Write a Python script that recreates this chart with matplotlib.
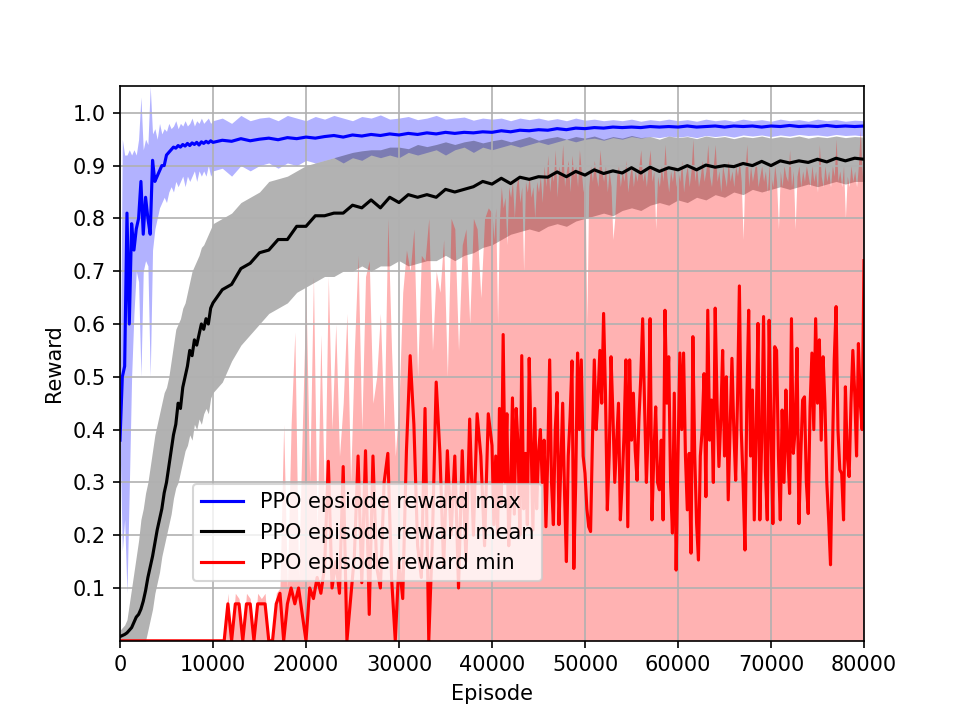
import numpy as np
import matplotlib
matplotlib.use("Agg")
import matplotlib.pyplot as plt

# Episode grids: max/mean are dense at the start, min is dense in the second half
episodes_a = np.array(list(range(0, 10000, 250)) + list(range(10000, 80001, 1000)))
episodes_b = np.array(list(range(0, 40000, 400)) + list(range(40000, 80001, 200)))

# Max reward: line and spread
max_line = [0.38, 0.50, 0.52, 0.81, 0.60, 0.79, 0.74, 0.78, 0.80, 0.87,
            0.77, 0.84, 0.80, 0.77, 0.91, 0.87, 0.88, 0.89, 0.90, 0.90,
            0.92, 0.925, 0.93, 0.935, 0.933, 0.938, 0.935, 0.94, 0.937, 0.942,
            0.938, 0.943, 0.94, 0.944, 0.939, 0.945, 0.942, 0.946, 0.943, 0.947,
            0.944, 0.948, 0.946, 0.951, 0.947, 0.950, 0.952, 0.949, 0.953, 0.951,
            0.954, 0.952, 0.955, 0.957, 0.954, 0.958, 0.956, 0.959, 0.957, 0.960,
            0.958, 0.961, 0.959, 0.962, 0.960, 0.963, 0.961, 0.963, 0.962, 0.964,
            0.963, 0.966, 0.964, 0.967, 0.966, 0.968, 0.967, 0.970, 0.968, 0.971,
            0.970, 0.972, 0.971, 0.973, 0.972, 0.973, 0.972, 0.974, 0.973, 0.974,
            0.973, 0.975, 0.973, 0.974, 0.975, 0.973, 0.975, 0.974, 0.975, 0.973,
            0.975, 0.974, 0.976, 0.974, 0.975, 0.974, 0.976, 0.974, 0.975, 0.974,
            0.975]
max_hi = [0.40, 0.95, 0.92, 0.92, 0.93, 0.92, 0.93, 0.92, 0.95, 1.03,
          0.93, 0.95, 0.94, 1.05, 0.96, 0.97, 0.95, 0.98, 0.96, 0.97,
          0.965, 0.98, 0.97, 0.975, 0.985, 0.97, 0.98, 0.975, 0.985, 0.975,
          0.98, 0.99, 0.975, 0.985, 0.98, 0.99, 0.98, 0.985, 0.99, 0.98,
          0.985, 0.99, 0.98, 0.995, 0.985, 0.99, 0.992, 0.985, 0.995, 0.99,
          0.985, 0.993, 0.988, 0.995, 0.99, 0.985, 0.993, 0.99, 0.996, 0.988,
          0.99, 0.993, 0.987, 0.99, 0.995, 0.988, 0.99, 0.992, 0.986, 0.99,
          0.988, 0.99, 0.985, 0.99, 0.987, 0.99, 0.986, 0.989, 0.985, 0.99,
          0.986, 0.988, 0.985, 0.987, 0.985, 0.988, 0.984, 0.987, 0.985, 0.988,
          0.985, 0.987, 0.984, 0.988, 0.985, 0.987, 0.984, 0.988, 0.985, 0.987,
          0.984, 0.988, 0.985, 0.987, 0.984, 0.988, 0.985, 0.987, 0.984, 0.986,
          0.985]
max_lo = [0.38, 0.17, 0.23, 0.09, 0.29, 0.50, 0.62, 0.70, 0.68, 0.50,
          0.70, 0.72, 0.71, 0.50, 0.74, 0.78, 0.80, 0.82, 0.83, 0.84,
          0.83, 0.85, 0.86, 0.85, 0.87, 0.86, 0.87, 0.88, 0.86, 0.88,
          0.87, 0.88, 0.89, 0.87, 0.89, 0.88, 0.89, 0.88, 0.90, 0.88,
          0.89, 0.895, 0.88, 0.90, 0.89, 0.90, 0.905, 0.895, 0.905, 0.90,
          0.91, 0.905, 0.91, 0.915, 0.905, 0.915, 0.91, 0.92, 0.915, 0.92,
          0.915, 0.925, 0.92, 0.925, 0.93, 0.92, 0.93, 0.935, 0.925, 0.935,
          0.93, 0.935, 0.94, 0.935, 0.94, 0.945, 0.94, 0.945, 0.95, 0.945,
          0.95, 0.952, 0.948, 0.953, 0.95, 0.955, 0.952, 0.955, 0.953, 0.956,
          0.954, 0.956, 0.953, 0.957, 0.955, 0.957, 0.954, 0.958, 0.956, 0.958,
          0.955, 0.958, 0.956, 0.959, 0.957, 0.958, 0.956, 0.959, 0.957, 0.958,
          0.956]

# Mean reward: line and spread
mean_line = [0.008, 0.01, 0.012, 0.015, 0.02, 0.025, 0.035, 0.045, 0.05, 0.06,
             0.075, 0.095, 0.12, 0.14, 0.16, 0.185, 0.21, 0.23, 0.25, 0.28,
             0.30, 0.33, 0.36, 0.39, 0.41, 0.45, 0.44, 0.48, 0.50, 0.52,
             0.55, 0.54, 0.57, 0.56, 0.58, 0.60, 0.59, 0.61, 0.60, 0.63,
             0.64, 0.665, 0.675, 0.705, 0.715, 0.735, 0.74, 0.76, 0.76, 0.785,
             0.785, 0.805, 0.805, 0.81, 0.81, 0.825, 0.82, 0.835, 0.82, 0.84,
             0.83, 0.845, 0.84, 0.845, 0.84, 0.855, 0.85, 0.855, 0.86, 0.87,
             0.865, 0.876, 0.866, 0.878, 0.874, 0.879, 0.878, 0.888, 0.879, 0.889,
             0.882, 0.892, 0.885, 0.89, 0.886, 0.896, 0.886, 0.897, 0.889, 0.896,
             0.892, 0.90, 0.892, 0.901, 0.897, 0.90, 0.898, 0.904, 0.90, 0.908,
             0.90, 0.909, 0.905, 0.909, 0.906, 0.912, 0.907, 0.914, 0.909, 0.914,
             0.912]
mean_hi = [0.02, 0.025, 0.03, 0.04, 0.07, 0.10, 0.13, 0.16, 0.19, 0.23,
           0.25, 0.28, 0.30, 0.33, 0.36, 0.39, 0.41, 0.43, 0.45, 0.47,
           0.48, 0.50, 0.53, 0.56, 0.59, 0.60, 0.61, 0.63, 0.64, 0.66,
           0.68, 0.70, 0.71, 0.72, 0.73, 0.745, 0.75, 0.76, 0.77, 0.78,
           0.79, 0.80, 0.81, 0.83, 0.84, 0.85, 0.87, 0.875, 0.88, 0.89,
           0.90, 0.905, 0.91, 0.915, 0.92, 0.925, 0.928, 0.93, 0.93, 0.935,
           0.935, 0.932, 0.94, 0.936, 0.94, 0.945, 0.94, 0.945, 0.948, 0.943,
           0.947, 0.95, 0.945, 0.95, 0.955, 0.948, 0.952, 0.955, 0.95, 0.955,
           0.952, 0.956, 0.95, 0.955, 0.952, 0.957, 0.953, 0.955, 0.95, 0.956,
           0.953, 0.955, 0.951, 0.956, 0.953, 0.955, 0.951, 0.955, 0.953, 0.956,
           0.952, 0.955, 0.953, 0.956, 0.952, 0.955, 0.953, 0.956, 0.953, 0.955,
           0.954]
mean_lo = [0.0, 0.0, 0.0, 0.0, 0.0, 0.0, 0.0, 0.0, 0.0, 0.0,
           0.0, 0.0, 0.02, 0.04, 0.06, 0.09, 0.11, 0.13, 0.16, 0.18,
           0.20, 0.22, 0.24, 0.27, 0.29, 0.30, 0.32, 0.34, 0.36, 0.37,
           0.39, 0.38, 0.41, 0.40, 0.42, 0.41, 0.43, 0.44, 0.43, 0.46,
           0.47, 0.49, 0.53, 0.56, 0.58, 0.60, 0.62, 0.63, 0.64, 0.66,
           0.67, 0.68, 0.69, 0.69, 0.70, 0.70, 0.71, 0.70, 0.71, 0.71,
           0.72, 0.71, 0.715, 0.72, 0.72, 0.73, 0.72, 0.73, 0.735, 0.745,
           0.75, 0.76, 0.77, 0.775, 0.78, 0.775, 0.785, 0.79, 0.785, 0.795,
           0.80, 0.805, 0.81, 0.805, 0.815, 0.82, 0.815, 0.825, 0.83, 0.825,
           0.835, 0.83, 0.84, 0.835, 0.845, 0.84, 0.85, 0.845, 0.855, 0.85,
           0.855, 0.86, 0.855, 0.86, 0.865, 0.86, 0.865, 0.87, 0.865, 0.87,
           0.87]

# Min reward: line and upper spread (lower spread sits on 0)
min_line = [0, 0, 0, 0, 0, 0, 0, 0, 0, 0,
            0, 0, 0, 0, 0, 0, 0, 0, 0, 0,
            0, 0, 0, 0, 0, 0, 0, 0, 0, 0.07,
            0.0, 0.07, 0.07, 0.0, 0.07, 0.07, 0.0, 0.07, 0.07, 0.07,
            0.0, 0.0, 0.07, 0.09, 0.0, 0.07, 0.10, 0.07, 0.10, 0.05,
            0.0, 0.10, 0.08, 0.12, 0.09, 0.14, 0.34, 0.10, 0.15, 0.09,
            0.33, 0.0, 0.08, 0.16, 0.35, 0.11, 0.36, 0.05, 0.35, 0.14,
            0.10, 0.30, 0.355, 0.12, 0.0, 0.15, 0.08, 0.36, 0.54, 0.41,
            0.18, 0.12, 0.44, 0.0, 0.20, 0.49, 0.355, 0.14, 0.36, 0.20,
            0.35, 0.10, 0.36, 0.15, 0.42, 0.20, 0.43, 0.35, 0.18, 0.43,
            # 40000 onwards, every 200 episodes
            0.37, 0.22, 0.35, 0.20, 0.44, 0.26, 0.58, 0.30, 0.43, 0.18,
            0.28, 0.46, 0.24, 0.44, 0.37, 0.20, 0.54, 0.25, 0.355, 0.22,
            0.535, 0.38, 0.21, 0.44, 0.25, 0.355, 0.40, 0.30, 0.38, 0.216,
            0.35, 0.532, 0.30, 0.22, 0.40, 0.47, 0.22, 0.33, 0.45, 0.28,
            0.15, 0.35, 0.425, 0.53, 0.137, 0.30, 0.545, 0.40, 0.532, 0.35,
            0.317, 0.25, 0.216, 0.207, 0.38, 0.532, 0.40, 0.462, 0.55, 0.45,
            0.62, 0.469, 0.248, 0.35, 0.538, 0.43, 0.30, 0.374, 0.45, 0.229,
            0.30, 0.393, 0.532, 0.216, 0.532, 0.38, 0.469, 0.36, 0.304, 0.42,
            0.50, 0.61, 0.45, 0.30, 0.40, 0.61, 0.229, 0.35, 0.443, 0.30,
            0.286, 0.38, 0.229, 0.626, 0.45, 0.538, 0.30, 0.204, 0.469, 0.134,
            0.35, 0.545, 0.40, 0.545, 0.35, 0.248, 0.355, 0.166, 0.576, 0.35,
            0.222, 0.153, 0.35, 0.40, 0.506, 0.273, 0.626, 0.38, 0.456, 0.30,
            0.63, 0.45, 0.33, 0.42, 0.55, 0.35, 0.50, 0.267, 0.40, 0.535,
            0.40, 0.304, 0.456, 0.672, 0.40, 0.30, 0.172, 0.45, 0.626, 0.35,
            0.475, 0.229, 0.40, 0.601, 0.229, 0.38, 0.614, 0.32, 0.229, 0.607,
            0.40, 0.222, 0.557, 0.55, 0.35, 0.229, 0.437, 0.30, 0.475, 0.36,
            0.279, 0.61, 0.355, 0.40, 0.554, 0.222, 0.35, 0.456, 0.462, 0.30,
            0.241, 0.443, 0.545, 0.40, 0.61, 0.45, 0.57, 0.38, 0.538, 0.45,
            0.30, 0.229, 0.144, 0.35, 0.532, 0.633, 0.40, 0.324, 0.317, 0.229,
            0.481, 0.35, 0.311, 0.45, 0.55, 0.469, 0.35, 0.563, 0.45, 0.40,
            0.72]
min_hi = [0, 0, 0, 0, 0, 0, 0, 0, 0, 0,
          0, 0, 0, 0, 0, 0, 0, 0, 0, 0,
          0, 0, 0, 0, 0, 0, 0, 0, 0, 0.09,
          0.0, 0.09, 0.08, 0.0, 0.09, 0.08, 0.0, 0.09, 0.08, 0.09,
          0.0, 0.0, 0.09, 0.10, 0.41, 0.10, 0.41, 0.585, 0.12, 0.40,
          0.66, 0.30, 0.69, 0.20, 0.58, 0.25, 0.69, 0.40, 0.60, 0.35,
          0.45, 0.62, 0.30, 0.55, 0.73, 0.40, 0.69, 0.72, 0.45, 0.50,
          0.62, 0.40, 0.80, 0.55, 0.35, 0.45, 0.66, 0.74, 0.70, 0.78,
          0.50, 0.73, 0.72, 0.80, 0.55, 0.70, 0.66, 0.76, 0.50, 0.80,
          0.78, 0.55, 0.75, 0.78, 0.60, 0.80, 0.78, 0.65, 0.80, 0.82,
          # 40000 onwards, every 200 episodes
          0.81, 0.76, 0.82, 0.60, 0.80, 0.86, 0.82, 0.84, 0.75, 0.86,
          0.84, 0.87, 0.80, 0.86, 0.88, 0.83, 0.86, 0.70, 0.87, 0.85,
          0.88, 0.84, 0.86, 0.80, 0.87, 0.85, 0.88, 0.83, 0.90, 0.86,
          0.92, 0.85, 0.89, 0.87, 0.93, 0.84, 0.90, 0.88, 0.94, 0.86,
          0.89, 0.91, 0.85, 0.92, 0.88, 0.90, 0.86, 0.93, 0.89, 0.85,
          0.88, 0.60, 0.86, 0.90, 0.87, 0.91, 0.88, 0.86, 0.93, 0.89,
          0.87, 0.90, 0.85, 0.89, 0.86, 0.76, 0.80, 0.88, 0.90, 0.86,
          0.89, 0.87, 0.91, 0.85, 0.88, 0.90, 0.86, 0.89, 0.87, 0.90,
          0.93, 0.87, 0.89, 0.86, 0.90, 0.93, 0.87, 0.89, 0.78, 0.88,
          0.86, 0.90, 0.87, 0.94, 0.88, 0.85, 0.89, 0.87, 0.90, 0.86,
          0.89, 0.87, 0.91, 0.85, 0.88, 0.90, 0.86, 0.89, 0.95, 0.87,
          0.90, 0.86, 0.88, 0.91, 0.87, 0.89, 0.94, 0.88, 0.86, 0.90,
          0.94, 0.87, 0.89, 0.85, 0.90, 0.88, 0.86, 0.91, 0.87, 0.89,
          0.86, 0.90, 0.88, 0.91, 0.87, 0.76, 0.89, 0.94, 0.86, 0.90,
          0.87, 0.89, 0.91, 0.86, 0.88, 0.90, 0.87, 0.89, 0.85, 0.90,
          0.88, 0.86, 0.90, 0.87, 0.78, 0.89, 0.86, 0.90, 0.88, 0.87,
          0.93, 0.86, 0.89, 0.78, 0.88, 0.90, 0.86, 0.89, 0.87, 0.90,
          0.88, 0.86, 0.90, 0.87, 0.89, 0.85, 0.94, 0.88, 0.86, 0.90,
          0.87, 0.89, 0.86, 0.90, 0.88, 0.95, 0.87, 0.89, 0.86, 0.90,
          0.80, 0.88, 0.86, 0.90, 0.87, 0.89, 0.86, 0.90, 0.97, 0.88,
          0.97]

fig, ax = plt.subplots(figsize=(6.4, 4.8))

# Spread bands
ax.fill_between(episodes_a, max_lo, max_hi, color='blue', alpha=0.3, linewidth=0)
ax.fill_between(episodes_a, mean_lo, mean_hi, color='black', alpha=0.3, linewidth=0)
ax.fill_between(episodes_b, 0, min_hi, color='red', alpha=0.3, linewidth=0)

# Main curves
ax.plot(episodes_a, max_line, color='blue', label='PPO epsiode reward max')
ax.plot(episodes_a, mean_line, color='black', label='PPO episode reward mean')
ax.plot(episodes_b, min_line, color='red', label='PPO episode reward min')

ax.set_xlim(0, 80000)
ax.set_ylim(0, 1.05)
ax.set_yticks([0.1, 0.2, 0.3, 0.4, 0.5, 0.6, 0.7, 0.8, 0.9, 1.0])
ax.set_xlabel('Episode')
ax.set_ylabel('Reward')
ax.grid(True)
ax.legend(loc='lower left', bbox_to_anchor=(0.098, 0.107), borderaxespad=0)

plt.savefig('out.png', dpi=150)
